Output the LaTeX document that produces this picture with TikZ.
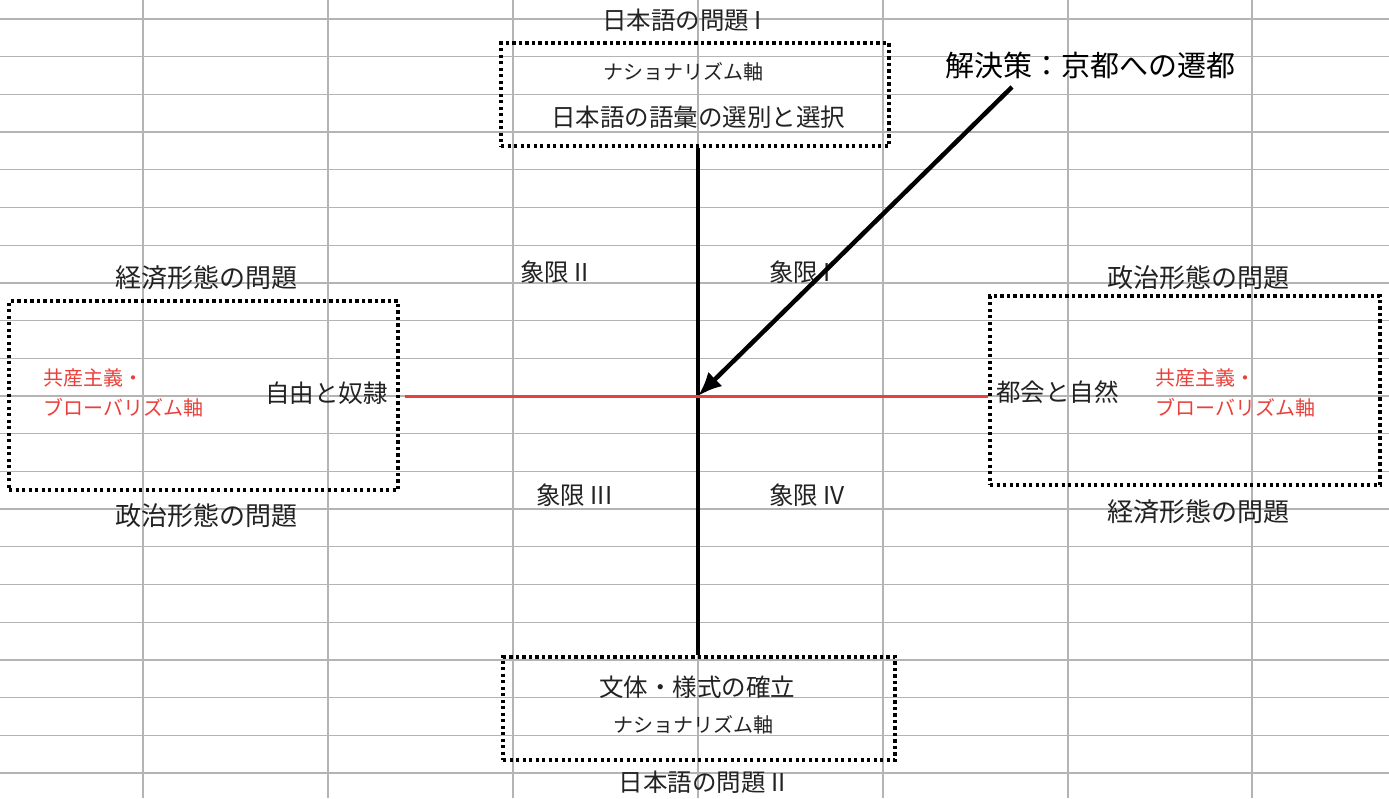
\documentclass[tikz,border=0pt]{standalone}
\usepackage{fontspec}
\setmainfont{Noto Sans CJK JP}
\usetikzlibrary{arrows.meta}
\definecolor{gridgray}{RGB}{180,180,180}
\definecolor{axisred}{RGB}{232,64,58}
\definecolor{textblack}{RGB}{34,34,34}

\tikzset{
  gridline/.style={gridgray, line width=1.3pt},
  dotbox/.style={draw, line width=3.6pt, dash pattern=on 3.4pt off 3.1pt, inner sep=0pt},
  bigtext/.style={inner sep=0pt, text=textblack, font=\fontsize{24.5}{27}\selectfont},
  headtext/.style={inner sep=0pt, text=textblack, font=\fontsize{26}{28}\selectfont},
  smalltext/.style={inner sep=0pt, text=textblack, font=\fontsize{20}{22}\selectfont},
  redtext/.style={inner sep=0pt, text=axisred, font=\fontsize{20}{22}\selectfont},
}

\begin{document}
\begin{tikzpicture}[x=1pt, y=-1pt]

\useasboundingbox (0,0) rectangle (1389,798) ;

%sheet grid
\foreach \x in {143,328,513,698,883,1068,1252}
  \draw [gridline] (\x,0) -- (\x,798) ;
\foreach \i in {0,...,20}
  \draw [gridline] (0,19+37.7*\i) -- (1389,19+37.7*\i) ;

%boxes
\node [dotbox, minimum width=388pt, minimum height=103pt] (topbox) at (695,94.5) {} ;
\node [dotbox, minimum width=392pt, minimum height=103pt] (botbox) at (699,708.5) {} ;
\node [dotbox, minimum width=389pt, minimum height=189pt] (leftbox) at (203.5,395.5) {} ;
\node [dotbox, minimum width=390pt, minimum height=189pt] (rightbox) at (1185,390.5) {} ;

%axes
\coordinate (origin) at (698,396) ;
\draw [line width=4pt] (origin |- topbox.south) -- (origin |- botbox.north) ;
\draw [axisred, line width=3pt] ([xshift=5pt]leftbox.east |- origin) -- (rightbox.west |- origin) ;

%top box labels
\node [bigtext] (probI) at (682,20) {日本語の問題 I} ;
\node [smalltext] (natI) at (683,72) {ナショナリズム軸} ;
\node [bigtext] (vocab) at (698,117) {日本語の語彙の選別と選択} ;

%bottom box labels
\node [bigtext] (style) at (697,687) {文体・様式の確立} ;
\node [smalltext] (natII) at (693,725) {ナショナリズム軸} ;
\node [bigtext] (probII) at (702,782) {日本語の問題 II} ;

%left box labels
\node [headtext] (econL) at (206,278) {経済形態の問題} ;
\node [headtext] (polL) at (206,516) {政治形態の問題} ;
\node [redtext, anchor=west] (commL) at (43,378) {共産主義・} ;
\node [redtext, anchor=west] (globL) at (43,408) {ブローバリズム軸} ;
\node [bigtext, anchor=east] (freedom) at (388,393) {自由と奴隷} ;

%right box labels
\node [headtext] (polR) at (1198,278) {政治形態の問題} ;
\node [headtext] (econR) at (1198,512) {経済形態の問題} ;
\node [bigtext, anchor=west] (city) at (996,392) {都会と自然} ;
\node [redtext, anchor=west] (commR) at (1155,378) {共産主義・} ;
\node [redtext, anchor=west] (globR) at (1155,408) {ブローバリズム軸} ;

%quadrants
\node [bigtext, anchor=west] (quadII) at (520,272) {象限 II} ;
\node [bigtext, anchor=west] (quadI) at (769,272) {象限 I} ;
\node [bigtext, anchor=west] (quadIII) at (536,495) {象限 III} ;
\node [bigtext, anchor=west] (quadIV) at (769,495) {象限 IV} ;

%solution and arrow
\node [inner sep=0pt, font=\fontsize{29}{32}\selectfont] (solution) at (1090,65) {解決策：京都への遷都} ;
\coordinate (arrowstart) at (1012,87) ;
\draw [line width=4.5pt, -{Latex[length=24pt, width=20pt]}] (arrowstart) -- (origin) ;

\end{tikzpicture}
\end{document}
